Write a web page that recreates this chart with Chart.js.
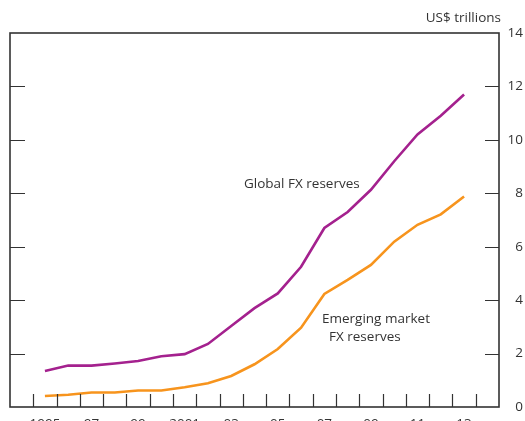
<!DOCTYPE html>
<html>
<head>
<meta charset="utf-8">
<script src="https://cdn.jsdelivr.net/npm/chart.js@4.4.1/dist/chart.umd.min.js"></script>
<style>
  html, body { margin: 0; padding: 0; background: #fff; overflow: hidden; }
  #wrap { width: 525px; height: 440px; }
</style>
</head>
<body>
<div id="wrap"><canvas id="fxChart" width="525" height="440"></canvas></div>
<script>
// data (US$ trillions)
const years = ['1994', '1995', '1996', '1997', '1998', '1999', '2000', '2001', '2002', '2003', '2004',
               '2005', '2006', '2007', '2008', '2009', '2010', '2011', '2012', '2013', '2014'];
const yearLabels = ['', '1995', '', '97', '', '99', '', '2001', '', '03', '',
                    '05', '', '07', '', '09', '', '11', '', '13', ''];
const globalFX = [null, 1.35, 1.55, 1.55, 1.63, 1.72, 1.9, 1.98, 2.36, 3.03, 3.7,
                  4.25, 5.25, 6.7, 7.3, 8.13, 9.2, 10.2, 10.9, 11.7, null];
const emergingFX = [null, 0.41, 0.46, 0.54, 0.54, 0.62, 0.62, 0.74, 0.89, 1.16, 1.6,
                    2.17, 2.97, 4.23, 4.76, 5.32, 6.19, 6.82, 7.21, 7.88, null];
const yTicks = [0, 2, 4, 6, 8, 10, 12, 14];

const inkColor = '#333333';
const fontFamily = '"Open Sans", sans-serif';
const fontSize = 13.5;

// frame, inward ticks and text labels
const framePlugin = {
    id: 'frame',
    afterDraw(chart) {
        const ctx = chart.ctx;
        const area = chart.chartArea;
        const xs = chart.scales.x;
        const ys = chart.scales.y;

        ctx.save();
        ctx.strokeStyle = inkColor;
        ctx.lineWidth = 1.6;
        ctx.strokeRect(area.left, area.top, area.right - area.left, area.bottom - area.top);

        // x ticks at the year boundaries
        ctx.lineWidth = 1.2;
        ctx.beginPath();
        for (let i = 0; i < years.length - 1; i++) {
            const px = Math.round((xs.getPixelForValue(i) + xs.getPixelForValue(i + 1)) / 2) + 0.5;
            ctx.moveTo(px, area.bottom);
            ctx.lineTo(px, area.bottom - 13);
        }
        // y ticks on both sides
        yTicks.forEach(v => {
            if (v === 0 || v === 14) return;
            const py = Math.round(ys.getPixelForValue(v)) + 0.5;
            ctx.moveTo(area.left, py);
            ctx.lineTo(area.left + 15, py);
            ctx.moveTo(area.right, py);
            ctx.lineTo(area.right - 14, py);
        });
        ctx.stroke();

        ctx.fillStyle = inkColor;
        ctx.font = fontSize + 'px ' + fontFamily;
        ctx.textBaseline = 'middle';
        ctx.textAlign = 'right';
        ctx.fillText('US$ trillions', 501, 18);

        ctx.textAlign = 'left';
        ctx.fillText('Global FX reserves', 244, 184);
        ctx.fillText('Emerging market', 322, 319);
        ctx.fillText('FX reserves', 329, 337);
        ctx.restore();
    }
};

const ctx = document.getElementById('fxChart').getContext('2d');

new Chart(ctx, {
    type: 'line',
    data: {
        labels: years,
        datasets: [
            {
                label: 'Global FX reserves',
                data: globalFX,
                borderColor: '#a4218e',
                borderWidth: 2.6,
                pointRadius: 0,
                tension: 0
            },
            {
                label: 'Emerging market FX reserves',
                data: emergingFX,
                borderColor: '#f7941d',
                borderWidth: 2.6,
                pointRadius: 0,
                tension: 0
            }
        ]
    },
    options: {
        responsive: false,
        animation: false,
        layout: { padding: { left: 10, top: 33, right: 2, bottom: 0 } },
        plugins: {
            legend: { display: false },
            tooltip: { enabled: false }
        },
        scales: {
            x: {
                type: 'category',
                offset: true,
                grid: { display: false, drawTicks: false },
                border: { display: false },
                ticks: {
                    autoSkip: false,
                    maxRotation: 0,
                    padding: 9,
                    color: inkColor,
                    font: { family: fontFamily, size: fontSize },
                    callback: (v, i) => yearLabels[i]
                },
                afterFit: scale => { scale.height = 33; }
            },
            y: {
                position: 'right',
                min: 0,
                max: 14,
                afterBuildTicks: scale => { scale.ticks = yTicks.map(v => ({ value: v })); },
                grid: { display: false, drawTicks: false },
                border: { display: false },
                ticks: {
                    padding: 8,
                    crossAlign: 'far',
                    color: inkColor,
                    font: { family: fontFamily, size: fontSize }
                },
                afterFit: scale => { scale.width = 24; }
            }
        }
    },
    plugins: [framePlugin]
});
</script>
</body>
</html>
